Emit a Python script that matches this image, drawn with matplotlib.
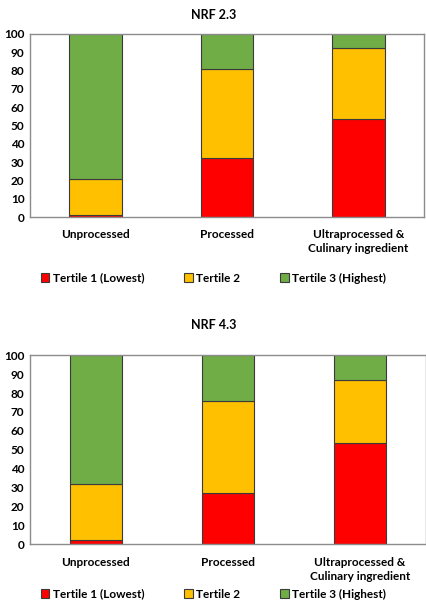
import matplotlib
matplotlib.use("Agg")
import matplotlib.pyplot as plt
from matplotlib.patches import Patch
import numpy as np

categories = ["Unprocessed", "Processed", "Ultraprocessed &\nCulinary ingredient"]
series_names = ["Tertile 1 (Lowest)", "Tertile 2", "Tertile 3 (Highest)"]
colors = ["#FF0000", "#FFC000", "#70AD47"]

nrf23_t1 = [1.3, 32.2, 53.5]
nrf23_t2 = [19.7, 48.7, 38.7]
nrf23_t3 = [79.0, 19.1, 7.8]

nrf43_t1 = [2.3, 27.0, 53.6]
nrf43_t2 = [29.6, 48.7, 33.5]
nrf43_t3 = [68.1, 24.3, 12.9]

yticks = list(range(0, 101, 10))

plt.rcParams['font.family'] = ['Lato', 'DejaVu Sans']
plt.rcParams['font.weight'] = 'bold'

fig = plt.figure(figsize=(4.27, 6.0), dpi=100)

def draw(ax, t1, t2, t3, title, title_y):
    x = np.arange(len(categories))
    bottom = np.zeros(len(categories))
    for vals, c in zip([t1, t2, t3], colors):
        ax.bar(x, vals, width=0.4, bottom=bottom, color=c, edgecolor="#3a3a3a", linewidth=0.8, zorder=2)
        bottom = bottom + np.array(vals)
    ax.set_xlim(-0.5, 2.5)
    ax.set_ylim(0, 100)
    ax.set_yticks(yticks)
    ax.set_yticklabels([str(v) for v in yticks], fontsize=8.5, fontweight='bold')
    ax.set_xticks(x)
    ax.set_xticklabels(categories, fontsize=8.5, fontweight='bold', linespacing=1.3)
    ax.tick_params(axis='both', length=0)
    ax.tick_params(axis='y', pad=4)
    ax.tick_params(axis='x', pad=9)
    for s in ax.spines.values():
        s.set_color("#8c8c8c")
        s.set_linewidth(1.0)
    fig.text(0.5, title_y, title, ha='center', va='center', fontsize=9, fontweight='bold')

ax1 = fig.add_axes([30/427, 1-217/600, 394/427, 183/600])
draw(ax1, nrf23_t1, nrf23_t2, nrf23_t3, "NRF 2.3", 1-15/600)
ax2 = fig.add_axes([30/427, 1-544.3/600, 396/427, 189/600])
draw(ax2, nrf43_t1, nrf43_t2, nrf43_t3, "NRF 4.3", 1-325/600)

handles = [Patch(facecolor=c, edgecolor="#3a3a3a", linewidth=0.8) for c in colors]
for ly in [1-278/600, 1-594/600]:
    fig.legend(handles, series_names, loc='center', bbox_to_anchor=(0.5, ly), ncol=3,
               frameon=False, fontsize=8.5, prop={'weight': 'bold', 'size': 8.5},
               handlelength=0.7, handleheight=0.7, handletextpad=0.3, columnspacing=3.4,
               borderaxespad=0, borderpad=0)

fig.savefig("out.png", dpi=100)
